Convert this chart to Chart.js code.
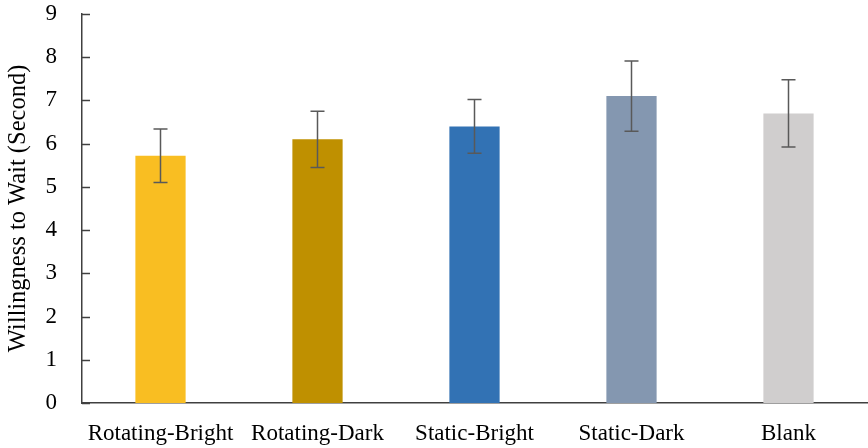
<!DOCTYPE html>
<html>
<head>
<meta charset="utf-8">
<script src="https://cdn.jsdelivr.net/npm/chart.js@4"></script>
<style>
    body { margin: 0; background: #fff; overflow: hidden; }
    canvas { display: block; }
</style>
</head>
<body>
<canvas id="graficoEspera" width="868" height="448"></canvas>
<script>
// dados
const categorias = ['Rotating-Bright', 'Rotating-Dark', 'Static-Bright', 'Static-Dark', 'Blank'];
const medias = [5.72, 6.10, 6.40, 7.10, 6.70];
const erros = [0.62, 0.65, 0.62, 0.81, 0.78];
const cores = ['#F9BE22', '#BF9000', '#3272B4', '#8497B0', '#D0CECE'];
const ticksY = [0, 1, 2, 3, 4, 5, 6, 7, 8, 9];

const fonte = 'Liberation Serif, Times New Roman, serif';

// barras de erro
const barrasErro = {
    id: 'barrasErro',
    afterDatasetsDraw(chart) {
        const ctx = chart.ctx;
        const y = chart.scales.y;
        const meta = chart.getDatasetMeta(0);
        ctx.save();
        ctx.strokeStyle = '#595959';
        ctx.lineWidth = 1.5;
        meta.data.forEach(function (bar, i) {
            const topo = y.getPixelForValue(medias[i] + erros[i]);
            const base = y.getPixelForValue(medias[i] - erros[i]);
            ctx.beginPath();
            ctx.moveTo(bar.x, topo);
            ctx.lineTo(bar.x, base);
            ctx.moveTo(bar.x - 7, topo);
            ctx.lineTo(bar.x + 7, topo);
            ctx.moveTo(bar.x - 7, base);
            ctx.lineTo(bar.x + 7, base);
            ctx.stroke();
        });
        ctx.restore();
    }
};

// marcas do eixo Y para dentro
const marcasY = {
    id: 'marcasY',
    afterDraw(chart) {
        const ctx = chart.ctx;
        const y = chart.scales.y;
        const esq = chart.chartArea.left;
        ctx.save();
        ctx.strokeStyle = '#404040';
        ctx.lineWidth = 1.5;
        ticksY.forEach(function (v) {
            const py = Math.round(y.getPixelForValue(v)) + 0.5;
            ctx.beginPath();
            ctx.moveTo(esq, py);
            ctx.lineTo(esq + 8, py);
            ctx.stroke();
        });
        ctx.restore();
    }
};

const dados = {
    labels: categorias,
    datasets: [{
        data: medias,
        backgroundColor: cores,
        borderWidth: 0,
        categoryPercentage: 1,
        barPercentage: 0.32
    }]
};

const config = {
    type: 'bar',
    data: dados,
    options: {
        responsive: false,
        animation: false,
        layout: { padding: { top: 14, right: 1, left: 0, bottom: 0 } },
        plugins: {
            legend: { display: false },
            tooltip: { enabled: false }
        },
        scales: {
            y: {
                min: 0,
                max: 9,
                afterBuildTicks: function (scale) {
                    scale.ticks = ticksY.map(v => ({ value: v }));
                },
                afterFit: function (scale) {
                    scale.width = 82;
                    scale.paddingTop = 0;
                    scale.paddingBottom = 0;
                },
                border: { display: true, color: '#404040', width: 1.5 },
                grid: { display: false, drawTicks: false },
                ticks: {
                    padding: 25,
                    color: '#000',
                    font: { family: fonte, size: 23, lineHeight: 1 }
                },
                title: {
                    display: true,
                    text: 'Willingness to Wait (Second)',
                    color: '#000',
                    padding: { top: 6, bottom: 0 },
                    font: { family: fonte, size: 24.5, lineHeight: 1 }
                }
            },
            x: {
                afterFit: function (scale) {
                    scale.height = 45;
                    scale.paddingLeft = 0;
                    scale.paddingRight = 0;
                },
                border: { display: true, color: '#404040', width: 1.5 },
                grid: { display: false, drawTicks: false },
                ticks: {
                    padding: 19,
                    color: '#000',
                    maxRotation: 0,
                    autoSkip: false,
                    font: { family: fonte, size: 23, lineHeight: 1 }
                }
            }
        }
    },
    plugins: [barrasErro, marcasY]
};

let myChart = new Chart(document.getElementById('graficoEspera'), config);
</script>
</body>
</html>
